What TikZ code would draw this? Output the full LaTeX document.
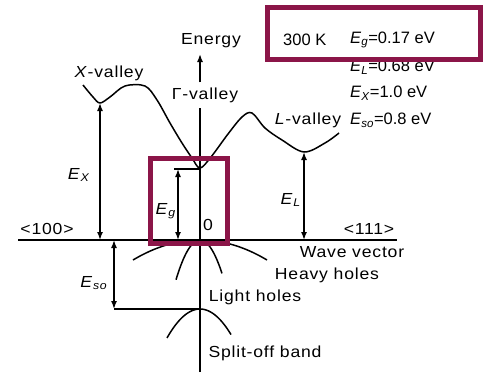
\documentclass[tikz,border=0pt]{standalone}
\usepackage{fontspec}
\setmainfont{Liberation Sans}
\newfontfamily\widefont{Liberation Sans}[FakeStretch=1.1,LetterSpace=5]
\usetikzlibrary{arrows.meta}
\definecolor{maroon}{RGB}{139,21,72}
\begin{document}
\begin{tikzpicture}[x=1pt,y=-1pt,
  font=\fontsize{16}{19}\selectfont,
  band/.style={line width=1.5pt,line join=round},
  axisline/.style={line width=1.5pt},
  dimarrow/.style={line width=1.5pt,{Latex[length=8pt,width=6pt]}-{Latex[length=8pt,width=6pt]}},
  lbl/.style={inner sep=0pt,font=\fontsize{16}{19}\widefont},
  tbl/.style={inner sep=0pt,anchor=west,font=\fontsize{16.5}{19}\selectfont},
  markbox/.style={draw=maroon,line width=5pt}]
\useasboundingbox (0,0) rectangle (484,372);

% axes
\coordinate (hl) at (18,240);
\coordinate (hr) at (397,240);
\coordinate (vbot) at (200,372);
\coordinate (vtop) at (200,54);
\node[lbl] (energy) at (211,41) {Energy};
\node[lbl,inner ysep=5pt] (gv) at (205,95) {Γ-valley};
\draw[axisline] (hl) -- (hr);
\draw[axisline] (vbot) -- (vbot |- gv.south);
\draw[axisline,-{Latex[length=8pt,width=6pt]}] (vbot |- gv.north) -- (vtop);

% conduction band
\draw[band] plot[smooth,tension=0.55] coordinates {(83,85) (93,97) (100,103) (110,97) (125,86) (145,86) (157,100) (170,123) (182,143) (192,158) (200,168) (211,157) (228,134) (242,117) (252,113) (265,128) (282,140) (304,152) (325,143) (339,133)};

% valence bands
\draw[band] plot[domain=133:267,samples=60] (\x,{240+0.00446*(\x-200)*(\x-200)});
\draw[band] plot[domain=176:222,samples=40] (\x,{240+0.069*(\x-200)*(\x-200)});
\draw[band] plot[domain=167:231,samples=50] (\x,{309+0.0266*(\x-200)*(\x-200)});

% key points
\coordinate (xmin) at (100,103);
\coordinate (gmin) at (200,169);
\coordinate (lmin) at (304,152);
\coordinate (egtop) at (174,169);
\coordinate (egx) at (178,169);
\coordinate (sotop) at (114,240);
\coordinate (sobot) at (114,309);
\coordinate (sopk) at (200,309);

% gap arrows
\draw[dimarrow] (xmin) -- (xmin |- hl);
\draw[dimarrow] (lmin) -- (lmin |- hl);
\draw[axisline] (egtop) -- (gmin);
\draw[dimarrow] (egx) -- (egx |- hl);
\draw[dimarrow] (sotop) -- (sobot);
\draw[axisline] (sobot) -- (sopk);

% labels
\node[lbl] (lx) at (109,73) {\textit{X}-valley};
\node[lbl] (ll) at (308,120) {\textit{L}-valley};
\node[lbl] (ex) at (79,175) {\textit{E}\textsubscript{\textit{X}}};
\node[lbl] (el) at (291,200) {\textit{E}\textsubscript{\textit{L}}};
\node[lbl] (eg) at (166,211) {\textit{E}\textsubscript{\textit{g}}};
\node[lbl] (eso) at (94,283) {\textit{E}\textsubscript{\textit{so}}};
\node[lbl] (zero) at (208,225) {0};
\node[lbl] (k100) at (47,229) {<100>};
\node[lbl] (k111) at (369,229) {<111>};
\node[lbl] (wv) at (352,252) {Wave vector};
\node[lbl] (hh) at (327,275) {Heavy holes};
\node[lbl] (lh) at (255,297) {Light holes};
\node[lbl] (so) at (265,353) {Split-off band};

% parameter table
\node[tbl] (temp) at (283,40) {300 K};
\node[tbl] (vg) at (350,40) {\textit{E}\textsubscript{\textit{g}}=0.17 eV};
\node[tbl] (vl) at (350,67) {\textit{E}\textsubscript{\textit{L}}=0.68 eV};
\node[tbl] (vx) at (350,93) {\textit{E}\textsubscript{\textit{X}}=1.0 eV};
\node[tbl] (vso) at (350,120) {\textit{E}\textsubscript{\textit{so}}=0.8 eV};

% highlight boxes
\draw[markbox] (150.5,158.5) rectangle (227,243);
\draw[markbox] (267.5,7.5) rectangle (480,59);
\end{tikzpicture}
\end{document}
